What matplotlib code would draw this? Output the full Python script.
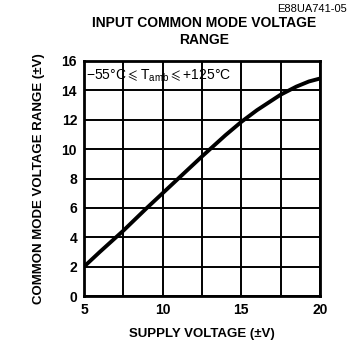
import numpy as np
import matplotlib.pyplot as plt

plt.rcParams['font.family'] = ['Liberation Sans', 'DejaVu Sans']

# supply voltage (±V) vs input common mode range (±V)
supply = [5, 6, 7.5, 9, 10, 11, 12.5, 14, 15, 16, 17, 17.5, 18.5, 19.3, 20]
cm_range = [2.0, 3.0, 4.45, 6.0, 7.0, 8.0, 9.5, 10.95, 11.85, 12.65, 13.35, 13.7, 14.25, 14.6, 14.8]

xticks = [5, 10, 15, 20]
yticks = [0, 2, 4, 6, 8, 10, 12, 14, 16]

fig = plt.figure(figsize=(3.5, 3.5), dpi=100)
ax = fig.add_axes([0.24, 0.154, 0.674, 0.672])

ax.plot(supply, cm_range, color='black', lw=2.8, solid_capstyle='butt')

ax.set_xlim(5, 20)
ax.set_ylim(0, 16)
ax.set_xticks(xticks)
ax.set_xticks(np.arange(5, 20.1, 2.5), minor=True)
ax.set_yticks(yticks)
ax.tick_params(which='both', length=0, pad=5)
ax.grid(True, which='both', color='black', lw=1.4)
for s in ax.spines.values():
    s.set_linewidth(2)
for lab in ax.get_xticklabels() + ax.get_yticklabels():
    lab.set_fontsize(10)
    lab.set_fontweight('bold')

ax.set_xlabel('SUPPLY VOLTAGE (±V)', fontsize=9.5, fontweight='bold', labelpad=8)
ax.set_ylabel('COMMON MODE VOLTAGE RANGE (±V)', fontsize=9.5, fontweight='bold', labelpad=12)

ax.text(5.15, 15.0, r'$\mathregular{-55°C \leqslant T_{amb} \leqslant {+}125°C}$',
        fontsize=10, va='center', ha='left')

fig.text(0.583, 0.91, 'INPUT COMMON MODE VOLTAGE\nRANGE', ha='center', va='center',
         fontsize=10, fontweight='bold', linespacing=1.35)
fig.text(0.99, 0.99, 'E88UA741-05', ha='right', va='top', fontsize=8)

fig.savefig('out.png', dpi=100)
